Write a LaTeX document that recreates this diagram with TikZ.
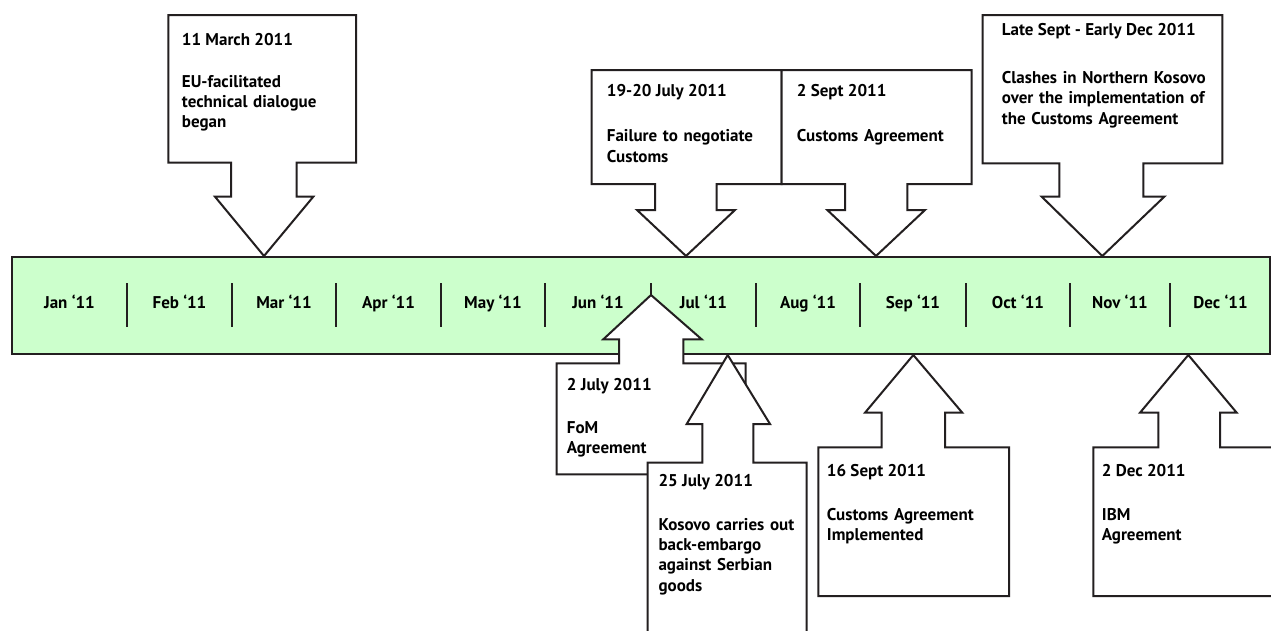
\documentclass[tikz,border=0pt]{standalone}
\usepackage{fontspec}
\setmainfont{PT Sans}[BoldFont={PT Sans Bold}]
\definecolor{band}{HTML}{CCFFCC}
\definecolor{ink}{HTML}{231F20}
\tikzset{
  calloutshape/.style={draw=ink, fill=white, line width=2pt, line join=miter},
  bandbox/.style={draw=ink, fill=band, line width=2pt},
  tickline/.style={draw=ink, line width=2.4pt},
  monthlbl/.style={font=\bfseries\fontsize{17}{20}\selectfont, inner sep=0pt, anchor=base, text=black},
  datelbl/.style={font=\bfseries\fontsize{17}{20.4}\selectfont, inner sep=0pt, anchor=base west, text=black},
  bodylbl/.style={font=\bfseries\fontsize{17}{20.4}\selectfont, inner sep=0pt, anchor=base west, text=black, text width=260pt, align=left},
}
% callouts: l,t,r,b,sl,sr,wy,wl,wr ; tip in \callouttip
\newcommand\downcallout[9]{%
  \path[calloutshape] (#1,#2) -- (#3,#2) -- (#3,#4) -- (#6,#4) -- (#6,#7) -- (#9,#7) -- \callouttip -- (#8,#7) -- (#5,#7) -- (#5,#4) -- (#1,#4) -- cycle;}
\newcommand\upcallout[9]{%
  \path[calloutshape] (#1,#4) -- (#1,#2) -- (#5,#2) -- (#5,#7) -- (#8,#7) -- \callouttip -- (#9,#7) -- (#6,#7) -- (#6,#2) -- (#3,#2) -- (#3,#4) -- cycle;}
\begin{document}
\begin{tikzpicture}[x=1pt,y=-1pt]
\useasboundingbox (0,0) rectangle (1271,630);
\clip (0,0) rectangle (1271,630);
\fill[white] (0,0) rectangle (1271,630);
% timeline band
\path[bandbox] (11.7,257) rectangle (1269.5,354.3);
\foreach \x in {127,232,336,441,545,651,756,860,966,1070,1170}
  \draw[tickline] (\x,283) -- (\x,327);
\node[monthlbl] (m1) at (69.5,308) {Jan ‘11};
\node[monthlbl] (m2) at (179.5,308) {Feb ‘11};
\node[monthlbl] (m3) at (284,308) {Mar ‘11};
\node[monthlbl] (m4) at (388.5,308) {Apr ‘11};
\node[monthlbl] (m5) at (493,308) {May ‘11};
\node[monthlbl] (m6) at (598,308) {Jun ‘11};
\node[monthlbl] (m7) at (703.5,308) {Jul ‘11};
\node[monthlbl] (m8) at (808,308) {Aug ‘11};
\node[monthlbl] (m9) at (913,308) {Sep ‘11};
\node[monthlbl] (m10) at (1018,308) {Oct ‘11};
\node[monthlbl] (m11) at (1120,308) {Nov ‘11};
\node[monthlbl] (m12) at (1220.5,308) {Dec ‘11};
% top callouts
\def\callouttip{(264,256)}
\downcallout{168.3}{15}{356}{162.7}{231}{296.7}{196.7}{215}{313.3}
\def\callouttip{(686,256)}
\downcallout{591.7}{70}{781.7}{184}{655}{716.7}{210}{637}{735}
\def\callouttip{(876,256)}
\downcallout{781.7}{70}{971.7}{184}{845}{907.3}{210}{827.3}{925}
\def\callouttip{(1102.3,256)}
\downcallout{982.7}{15}{1222.3}{163.3}{1059.3}{1143.3}{196.7}{1041.7}{1164.3}
% bottom callouts
\def\callouttip{(651,295)}
\upcallout{556.7}{363.3}{745.7}{474.3}{619}{683.3}{339.3}{603.3}{701.7}
\def\callouttip{(727.7,355)}
\upcallout{647.5}{462.7}{806.7}{660}{702.3}{753.3}{424}{686.7}{770}
\def\callouttip{(913.3,355)}
\upcallout{818.3}{447.3}{1009}{596}{881.7}{945}{412.7}{865}{962.3}
\def\callouttip{(1188.3,355)}
\upcallout{1093.3}{447.3}{1300}{596}{1158.3}{1220}{412.7}{1140}{1236.7}
% texts
\node[datelbl] (d1) at (181.7,45) {11 March 2011};
\node[bodylbl] (b1) at (181.7,87) {EU-facilitated\\technical dialogue\\began};
\node[datelbl] (d2) at (606.7,96.7) {19-20 July 2011};
\node[bodylbl] (b2) at (606.7,141.7) {Failure to negotiate\\Customs};
\node[datelbl] (d3) at (796.7,96.7) {2 Sept 2011};
\node[bodylbl] (b3) at (796.7,141.7) {Customs Agreement};
\node[datelbl] (d4) at (1001.7,35) {Late Sept - Early Dec 2011};
\node[bodylbl] (b4) at (1001.7,83.3) {Clashes in Northern Kosovo\\over the implementation of\\the Customs Agreement};
\node[datelbl] (d5) at (566.7,390) {2 July 2011};
\node[bodylbl] (b5) at (566.7,433.3) {FoM\\Agreement};
\node[datelbl] (d6) at (658.3,486.7) {25 July 2011};
\node[bodylbl] (b6) at (658.3,530) {Kosovo carries out\\back-embargo\\against Serbian\\goods};
\node[datelbl] (d7) at (826.7,476.7) {16 Sept 2011};
\node[bodylbl] (b7) at (826.7,520) {Customs Agreement\\Implemented};
\node[datelbl] (d8) at (1101.7,476.7) {2 Dec 2011};
\node[bodylbl] (b8) at (1101.7,520) {IBM\\Agreement};
\end{tikzpicture}
\end{document}
